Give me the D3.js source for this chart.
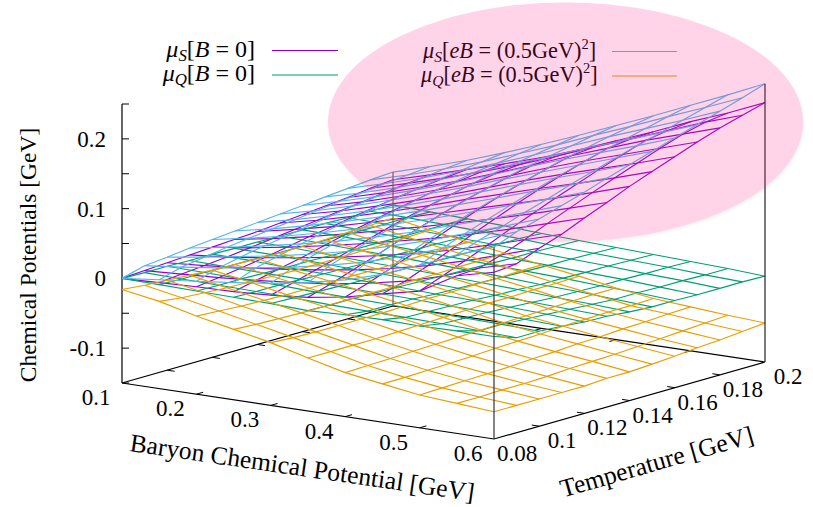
<!DOCTYPE html>
<html><head><meta charset="utf-8">
<style>html,body{margin:0;padding:0;background:#fff}svg{display:block}text{font-family:"Liberation Serif","Times New Roman",serif;fill:#000}</style>
<script src="https://cdn.jsdelivr.net/npm/d3@7"></script></head><body>
<svg id="c" width="813" height="507"></svg>
<script>
const muB=[0.1,0.15,0.2,0.25,0.3,0.35,0.4,0.45,0.5,0.55,0.6];
const temps=[0.08,0.09,0.1,0.11,0.12,0.13,0.14,0.15,0.16,0.17,0.18,0.19,0.2];
const muBTicks=[0.1,0.2,0.3,0.4,0.5,0.6];
const tempTicks=[0.08,0.1,0.12,0.14,0.16,0.18,0.2];
const zTicks=[-0.15,-0.1,-0.05,0,0.05,0.1,0.15,0.2,0.25];
const zLabels=[[-0.1,"-0.1"],[0,"0"],[0.1,"0.1"],[0.2,"0.2"]];
const muS_B0=[
[0,.002,.004,.005,.008,.013,.0215,.034,.046,.076,.089],
[.002,.005,.008,.012,.017,.023,.032,.043,.058,.078,.092],
[.004,.008,.013,.019,.026,.034,.044,.056,.071,.088,.105],
[.006,.011,.018,.026,.035,.045,.056,.069,.084,.100,.116],
[.008,.015,.024,.034,.045,.057,.069,.083,.098,.114,.130],
[.010,.019,.030,.042,.055,.068,.082,.096,.111,.127,.143],
[.012,.023,.035,.049,.064,.079,.094,.109,.124,.140,.157],
[.015,.027,.041,.056,.072,.089,.105,.121,.136,.152,.169],
[.018,.031,.046,.062,.079,.097,.115,.132,.148,.164,.181],
[.021,.035,.051,.068,.086,.105,.124,.142,.159,.176,.193],
[.024,.039,.055,.072,.091,.111,.132,.151,.170,.187,.204],
[.028,.043,.059,.076,.094,.114,.135,.155,.175,.195,.213],
[.031,.046,.062,.078,.095,.114,.135,.156,.1785,.199,.222]];
const muQ_B0=[
[0,-.001,-.002,-.003,-.004,-.006,-.004,-.003,-.004,-.003,-.003],
[-.001,-.002,-.003,-.004,-.005,-.007,-.008,-.009,-.010,-.012,-.014],
[-.001,-.002,-.003,-.004,-.006,-.007,-.008,-.010,-.011,-.012,-.014],
[-.002,-.003,-.004,-.005,-.007,-.008,-.009,-.011,-.012,-.014,-.016],
[-.002,-.003,-.005,-.006,-.008,-.009,-.011,-.012,-.014,-.016,-.019],
[-.003,-.004,-.005,-.007,-.008,-.010,-.012,-.014,-.016,-.018,-.020],
[-.003,-.004,-.006,-.008,-.009,-.011,-.013,-.015,-.018,-.020,-.023],
[-.004,-.005,-.007,-.008,-.010,-.012,-.014,-.017,-.019,-.022,-.025],
[-.004,-.005,-.007,-.009,-.011,-.013,-.015,-.017,-.020,-.022,-.025],
[-.004,-.006,-.008,-.009,-.011,-.014,-.016,-.018,-.020,-.023,-.026],
[-.005,-.006,-.008,-.010,-.012,-.014,-.016,-.018,-.021,-.023,-.026],
[-.005,-.006,-.008,-.010,-.012,-.015,-.017,-.019,-.021,-.024,-.026],
[-.005,-.007,-.009,-.011,-.014,-.016,-.018,-.020,-.022,-.024,-.027]];
const muS_eB=[
[0,.006,.012,.018,.025,.034,.046,.062,.083,.106,.125],
[.009,.015,.022,.030,.039,.050,.063,.079,.098,.118,.138],
[.012,.020,.029,.038,.049,.061,.076,.092,.110,.128,.147],
[.016,.025,.035,.046,.058,.072,.087,.104,.121,.139,.157],
[.019,.029,.040,.053,.067,.082,.098,.115,.132,.149,.167],
[.022,.033,.046,.060,.075,.091,.108,.125,.143,.160,.178],
[.025,.037,.051,.066,.082,.099,.117,.135,.153,.170,.188],
[.028,.041,.056,.072,.089,.107,.126,.144,.162,.180,.198],
[.031,.045,.060,.077,.095,.114,.134,.153,.171,.189,.208],
[.034,.048,.064,.082,.101,.120,.140,.160,.179,.198,.218],
[.037,.052,.068,.086,.105,.125,.146,.167,.187,.207,.228],
[.040,.055,.072,.090,.110,.130,.152,.173,.195,.216,.238],
[.042,.058,.075,.094,.114,.135,.157,.179,.202,.225,.249]];
const muQ_eB=[
[-.016,-.025,-.038,-.049,-.060,-.074,-.087,-.095,-.103,-.107,-.111],
[-.019,-.029,-.040,-.051,-.062,-.074,-.086,-.095,-.102,-.107,-.111],
[-.021,-.031,-.042,-.052,-.063,-.074,-.085,-.094,-.101,-.106,-.111],
[-.023,-.033,-.043,-.053,-.063,-.074,-.084,-.093,-.100,-.106,-.111],
[-.025,-.034,-.044,-.053,-.063,-.073,-.083,-.092,-.099,-.105,-.111],
[-.026,-.035,-.044,-.053,-.063,-.072,-.082,-.090,-.097,-.103,-.109],
[-.027,-.036,-.044,-.053,-.062,-.071,-.081,-.089,-.096,-.102,-.109],
[-.028,-.036,-.044,-.053,-.061,-.070,-.080,-.088,-.094,-.101,-.107],
[-.028,-.036,-.044,-.052,-.061,-.069,-.079,-.086,-.093,-.099,-.105],
[-.027,-.035,-.044,-.052,-.060,-.069,-.078,-.085,-.091,-.097,-.102],
[-.026,-.035,-.043,-.051,-.060,-.068,-.077,-.084,-.090,-.095,-.100],
[-.025,-.034,-.043,-.051,-.059,-.068,-.076,-.084,-.088,-.093,-.097],
[-.024,-.033,-.042,-.050,-.059,-.067,-.076,-.083,-.087,-.091,-.094]];
const surfaces=[[muS_B0,"#9400D3"],[muQ_B0,"#009E73"],[muS_eB,"#56B4E9"],[muQ_eB,"#E69F00"]];

const svg=d3.select("#c");
const bX=d3.scaleLinear().domain([0.1,0.6]).range([122,494]);
const bY=d3.scaleLinear().domain([0.1,0.6]).range([0,56]);
const tX=d3.scaleLinear().domain([0.08,0.2]).range([0,271]);
const tY=d3.scaleLinear().domain([0.08,0.2]).range([0,-77]);
const zY=d3.scaleLinear().domain([-0.15,0.25]).range([383,104]);
const P=(b,t,z)=>[bX(b)+tX(t),bY(b)+tY(t)+zY(z)];
const path=d3.line();
const seg=(g,a,c,w)=>g.append("path").attr("d",path(a)).attr("fill","none").attr("stroke",c).attr("stroke-width",w);

// soft edge of the ellipse, behind everything
const defs=svg.append("defs");
defs.append("filter").attr("id","sh").attr("x","-5%").attr("y","-5%").attr("width","110%").attr("height","110%")
 .append("feGaussianBlur").attr("stdDeviation",1.5);
svg.append("ellipse").attr("cx",566.5).attr("cy",124).attr("rx",237.5).attr("ry",119.5)
  .attr("fill","#000").attr("opacity",0.05).attr("filter","url(#sh)");
svg.append("ellipse").attr("cx",565.5).attr("cy",122).attr("rx",237.5).attr("ry",119.5).attr("fill","#fff");

// box and ticks
const ax=svg.append("g");
const zb=-0.15;
seg(ax,[P(0.1,0.08,zb),P(0.6,0.08,zb),P(0.6,0.2,zb),P(0.1,0.2,zb),P(0.1,0.08,zb)],"#000",1.2);
seg(ax,[P(0.1,0.08,0.25),P(0.1,0.08,zb)],"#000",1.2);
zTicks.forEach(z=>seg(ax,[P(0.1,0.08,z),[P(0.1,0.08,z)[0]+7,P(0.1,0.08,z)[1]]],"#000",1));
muBTicks.slice(1,-1).forEach(b=>{
  seg(ax,[P(b,0.08,zb),P(b,0.083,zb)],"#000",1);
  seg(ax,[P(b,0.2,zb),P(b,0.197,zb)],"#000",1);
});
tempTicks.slice(1,-1).forEach(t=>{
  seg(ax,[P(0.6,t,zb),P(0.59,t,zb)],"#000",1);
  seg(ax,[P(0.1,t,zb),P(0.11,t,zb)],"#000",1);
});

// legend
const leg=svg.append("g");
function legend(x,anchor,y,size,sub,rest,sup,after){
  const t=leg.append("text").attr("x",x).attr("y",y).attr("text-anchor",anchor).attr("font-size",size);
  t.append("tspan").attr("font-style","italic").text("μ");
  t.append("tspan").attr("font-style","italic").attr("font-size",size*0.7).attr("dy",4).text(sub);
  let first=true;
  rest.forEach(([s,it])=>{const r=t.append("tspan").attr("font-style",it?"italic":"normal").text(s);
    if(first){r.attr("dy",-4);first=false;}});
  if(sup){t.append("tspan").attr("font-size",size*0.65).attr("dy",-9).text(sup);
    t.append("tspan").attr("dy",9).text(after);}
}
const b0=[["[",0],["B",1],[" = 0]",0]];
const eb=[["[",0],["eB",1],[" = (0.5GeV)",0]];
legend(255,"end",57,24,"S",b0);
legend(255,"end",81,24,"Q",b0);
legend(423,"start",58,22.3,"S",eb,"2","]");
legend(421,"start",82,22.3,"Q",eb,"2","]");
[[272,338,50.5,"#9400D3"],[272,338,75,"#009E73"],[612,677,51.5,"#56B4E9"],[612,677,76,"#E69F00"]]
 .forEach(([a,b,y,c])=>seg(leg,[[a,y],[b,y]],c,1.2));

// surfaces
const sf=svg.append("g");
surfaces.forEach(([Z,col])=>{
  temps.forEach((t,i)=>seg(sf,muB.map((b,j)=>P(b,t,Z[i][j])),col,1.15));
  muB.forEach((b,j)=>seg(sf,temps.map((t,i)=>P(b,t,Z[i][j])),col,1.15));
});
// vertical corner posts up to the top surface
const last=temps.length-1, lastB=muB.length-1;
seg(svg,[P(0.6,0.08,zb),P(0.6,0.08,muS_eB[0][lastB])],"#333",1.2);
seg(svg,[P(0.1,0.2,zb),P(0.1,0.2,muS_eB[last][0])],"#666",1.2);
seg(svg,[P(0.6,0.2,zb),P(0.6,0.2,muS_eB[last][lastB])],"#222",1.2);

// tick labels
const lab=svg.append("g").attr("font-size",23);
muBTicks.forEach(b=>{const p=P(b,0.08,zb);
  lab.append("text").attr("x",p[0]-26).attr("y",p[1]+22).attr("text-anchor","middle").text(b);});
tempTicks.forEach(t=>{const p=P(0.6,t,zb);
  lab.append("text").attr("x",p[0]+23).attr("y",p[1]+22).attr("text-anchor","middle").text(t);});
zLabels.forEach(([z,s])=>{
  lab.append("text").attr("x",106).attr("y",zY(z)+8).attr("text-anchor","end").text(s);});
// axis titles
const title=(x,y,a,s,size)=>svg.append("text").attr("transform",`translate(${x},${y}) rotate(${a})`)
  .attr("text-anchor","middle").attr("font-size",size).text(s);
title(36,255,-90,"Chemical Potentials [GeV]",23.5);
title(301,476,8.3,"Baryon Chemical Potential [GeV]",25.5);
title(659,470,-16,"Temperature [GeV]",25.5);

// translucent pink ellipse on top
svg.append("ellipse").attr("cx",565.5).attr("cy",122).attr("rx",237.5).attr("ry",119.5)
  .attr("fill","rgb(255,35,140)").attr("fill-opacity",0.2);
</script></body></html>
